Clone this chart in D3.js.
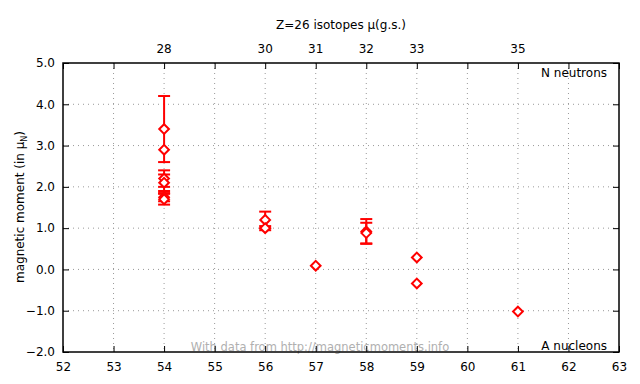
<!DOCTYPE html>
<html><head><meta charset="utf-8">
<script src="https://cdn.jsdelivr.net/npm/d3@7"></script>
<style>body{margin:0;background:#fff;} text{font-family:"DejaVu Sans",sans-serif;font-size:12px;}</style>
</head><body>
<svg id="c" width="640" height="384"></svg>
<script>
// A (nucleons), value, error
const massNumbers = [54, 54, 54, 54, 54, 54, 56, 56, 57, 58, 58, 59, 59, 61];
const moments     = [3.4, 2.9, 2.2, 2.1, 1.75, 1.7, 1.2, 1.0, 0.09, 0.92, 0.88, 0.29, -0.34, -1.02];
const errors      = [0.8, 0, 0.2, 0.2, 0.1, 0.13, 0.2, 0.05, 0, 0.3, 0.25, 0, 0, 0];
const xTicks = [52,53,54,55,56,57,58,59,60,61,62,63];
const yTicks = [-2,-1,0,1,2,3,4,5];
const neutronTicks = [28,30,31,32,33,35];
const Z = 26;

const svg = d3.select("#c");
const L=63, R=619, T=63, B=352;
const x = d3.scaleLinear().domain([52,63]).range([L,R]);
const y = d3.scaleLinear().domain([-2,5]).range([B,T]);

// grid
const g = svg.append("g");
g.selectAll(".gx").data(xTicks.slice(1,-1)).join("line")
 .attr("x1",d=>x(d)).attr("x2",d=>x(d)).attr("y1",T).attr("y2",B)
 .attr("stroke","#999").attr("stroke-width",1).attr("stroke-dasharray","1,4");
g.selectAll(".gy").data(yTicks.slice(1,-1)).join("line")
 .attr("y1",d=>y(d)).attr("y2",d=>y(d)).attr("x1",L).attr("x2",R)
 .attr("stroke","#999").attr("stroke-width",1).attr("stroke-dasharray","1,4");

// watermark
svg.append("text").attr("x",320).attr("y",351).attr("text-anchor","middle")
 .attr("fill","#b0b0b0").style("font-size","11.5px").text("With data from http://magneticmoments.info");

// axes
const ax = svg.append("g");
ax.append("g").attr("transform",`translate(0,${B})`)
 .call(d3.axisBottom(x).tickValues(xTicks).tickFormat(d3.format("d")).tickSizeInner(-6).tickSizeOuter(0).tickPadding(10));
ax.append("g").attr("transform",`translate(0,${T})`)
 .call(d3.axisTop(x).tickValues(xTicks).tickFormat("").tickSizeInner(-6).tickSizeOuter(0));
ax.append("g").attr("transform",`translate(${L},0)`)
 .call(d3.axisLeft(y).tickValues(yTicks).tickFormat(d3.format(".1f")).tickSizeInner(-6).tickSizeOuter(0).tickPadding(8));
ax.append("g").attr("transform",`translate(${R},0)`)
 .call(d3.axisRight(y).tickValues(yTicks).tickFormat("").tickSizeInner(-6).tickSizeOuter(0));
ax.selectAll(".domain").remove();
ax.selectAll("line").attr("stroke","#000");
ax.selectAll("text").attr("fill","#000").style("font-size","12px").style("font-family","DejaVu Sans");
svg.append("rect").attr("x",L).attr("y",T).attr("width",R-L).attr("height",B-T)
 .attr("fill","none").attr("stroke","#000").attr("stroke-width",1.5);

// top neutron labels
svg.selectAll(".nt").data(neutronTicks).join("text")
 .attr("x",d=>x(d+Z)).attr("y",53).attr("text-anchor","middle").text(d=>d);

svg.append("text").attr("x",341).attr("y",29).attr("text-anchor","middle").text("Z=26 isotopes μ(g.s.)");
svg.append("text").attr("x",607).attr("y",77).attr("text-anchor","end").text("N neutrons");
svg.append("text").attr("x",607).attr("y",350).attr("text-anchor","end").text("A nucleons");
const yl = svg.append("text").attr("transform","translate(24,207) rotate(-90)").attr("text-anchor","middle");
yl.append("tspan").text("magnetic moment (in μ");
yl.append("tspan").attr("dy",3).style("font-size","8px").text("N");
yl.append("tspan").attr("dy",-3).text(")");

// data
const pts = massNumbers.map((a,i)=>({a, v:moments[i], e:errors[i]}));
const red = "#ff0000";
const eb = svg.append("g").attr("stroke",red).attr("stroke-width",2);
pts.filter(p=>p.e>0).forEach(p=>{
  eb.append("line").attr("x1",x(p.a)).attr("x2",x(p.a)).attr("y1",y(p.v-p.e)).attr("y2",y(p.v+p.e));
  [p.v-p.e,p.v+p.e].forEach(v=>eb.append("line").attr("x1",x(p.a)-6).attr("x2",x(p.a)+6).attr("y1",y(v)).attr("y2",y(v)));
});
const sym = d3.symbol().type(d3.symbolDiamond2).size(60);
svg.append("g").selectAll("path").data(pts).join("path")
 .attr("transform",p=>`translate(${x(p.a)},${y(p.v)})`)
 .attr("d",sym).attr("fill","#fff").attr("stroke",red).attr("stroke-width",2);
</script>
</body></html>
